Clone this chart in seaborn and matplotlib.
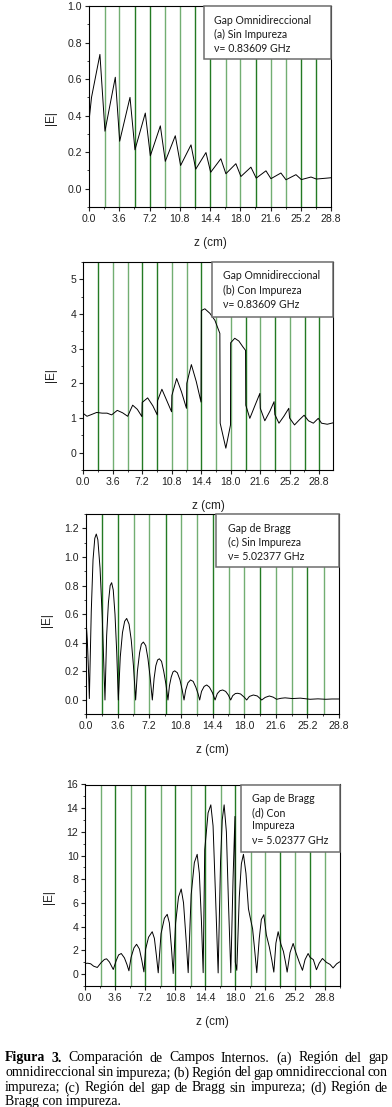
import matplotlib
matplotlib.use("Agg")
import numpy as np
import pandas as pd
import matplotlib.pyplot as plt
import seaborn as sns
from matplotlib.patches import Rectangle
from matplotlib.ticker import MultipleLocator, FormatStrFormatter

# ---------------- data ----------------
x_ticks = [0.0, 3.6, 7.2, 10.8, 14.4, 18.0, 21.6, 25.2, 28.8]
layer_bounds = [1.85, 3.6, 5.45, 7.2, 9.05, 10.8, 12.65, 14.4, 16.25, 18.0,
                19.85, 21.6, 23.45, 25.2, 27.05, 28.8]

za = [0, 0.3, 1.3, 1.9, 3.13, 3.65, 4.88, 5.47, 6.7, 7.3, 8.49, 9.08, 10.27, 10.9,
      12.14, 12.7, 13.92, 14.48, 15.69, 16.29, 17.48, 18.08, 19.27, 19.9, 21.06,
      21.65, 22.84, 23.44, 24.63, 25.27, 26.42, 27.06, 28.8]
Ea = [0.37, 0.5, 0.735, 0.315, 0.61, 0.26, 0.50, 0.213, 0.414, 0.18, 0.344, 0.15,
      0.29, 0.127, 0.24, 0.107, 0.198, 0.09, 0.164, 0.082, 0.137, 0.067, 0.118,
      0.058, 0.098, 0.055, 0.086, 0.049, 0.077, 0.05, 0.064, 0.053, 0.06]

zb = [0, 0.45, 1.0, 1.63, 2.3, 2.9, 3.46, 4.15, 4.8, 5.42, 6.03, 6.6, 7.16, 7.2,
      7.86, 8.5, 9.03, 9.07, 9.6, 10.2, 10.78, 10.82, 11.4, 12.0, 12.6, 12.64,
      13.2, 13.8, 14.38, 14.42, 14.85, 15.46, 16.07, 16.68, 16.72, 17.41, 17.98,
      18.0, 18.5, 19.0, 19.5, 19.82, 19.85, 20.34, 20.95, 21.57, 21.62, 22.17,
      22.8, 23.3, 23.4, 23.9, 24.5, 25.1, 25.2, 25.8, 26.4, 26.97, 27.5, 28.1,
      28.7, 29.1, 29.8, 30.5]
Eb = [1.13, 1.05, 1.1, 1.16, 1.14, 1.14, 1.09, 1.22, 1.15, 1.05, 1.37, 1.25, 1.04,
      1.45, 1.58, 1.35, 1.09, 1.5, 1.83, 1.5, 1.18, 1.65, 2.14, 1.75, 1.28, 2.0,
      2.54, 2.05, 1.46, 4.1, 4.15, 4.02, 3.82, 3.44, 0.85, 0.13, 0.8, 3.17, 3.3,
      3.22, 3.05, 2.95, 1.37, 0.99, 1.35, 1.71, 1.28, 0.92, 1.2, 1.47, 1.1, 0.85,
      1.05, 1.28, 1.0, 0.8, 0.95, 1.08, 0.92, 0.85, 0.99, 0.85, 0.82, 0.86]

zc = [0.0, 0.15, 0.3, 0.38, 0.6, 0.8, 1.0, 1.17, 1.35, 1.6, 1.85, 2.16,
      2.35, 2.55, 2.75, 2.92, 3.1, 3.3, 3.5, 3.68,
      3.9, 4.15, 4.4, 4.63, 4.9, 5.15, 5.4, 5.65,
      5.85, 6.1, 6.3, 6.53, 6.8, 7.05, 7.3, 7.55,
      7.75, 7.95, 8.15, 8.35, 8.6, 8.85, 9.1, 9.33,
      9.5, 9.7, 9.9, 10.1, 10.4, 10.7, 10.95, 11.16,
      11.35, 11.6, 11.9, 12.2, 12.5, 12.75, 12.94,
      13.15, 13.45, 13.74, 14.05, 14.4, 14.69,
      14.95, 15.25, 15.56, 15.9, 16.2, 16.47,
      16.7, 17.0, 17.27, 17.6, 18.0, 18.29,
      18.6, 19.05, 19.5, 20.0, 20.4, 20.87, 21.3, 21.7,
      22.2, 22.66, 23.5, 24.4, 25.5, 26.4, 27.3, 28.0, 28.8]
Ec = [0.56, 0.42, 0.18, 0.01, 0.62, 0.98, 1.13, 1.16, 1.12, 0.92, 0.58, 0.0,
      0.45, 0.68, 0.80, 0.82, 0.77, 0.60, 0.33, 0.0,
      0.30, 0.47, 0.55, 0.57, 0.53, 0.42, 0.24, 0.0,
      0.20, 0.33, 0.39, 0.405, 0.38, 0.29, 0.16, 0.0,
      0.15, 0.24, 0.28, 0.288, 0.27, 0.20, 0.11, 0.0,
      0.10, 0.16, 0.196, 0.204, 0.19, 0.14, 0.07, 0.0,
      0.07, 0.12, 0.14, 0.13, 0.09, 0.045, 0.0,
      0.06, 0.095, 0.105, 0.09, 0.05, 0.0,
      0.045, 0.065, 0.07, 0.06, 0.035, 0.0,
      0.03, 0.045, 0.047, 0.042, 0.02, 0.0,
      0.025, 0.035, 0.028, 0.0, 0.018, 0.028, 0.02, 0.005,
      0.012, 0.015, 0.01, 0.013, 0.005, 0.008, 0.005, 0.007, 0.007]

zd = [0, 0.3, 0.65, 1.0, 1.44, 1.9, 2.3, 2.56, 2.9, 3.36, 3.7, 4.0, 4.32, 4.7,
      5.0, 5.24, 5.5, 5.85, 6.16, 6.5, 6.8, 7.04, 7.25, 7.6, 8.04, 8.3, 8.55,
      8.76, 9.1, 9.5, 9.84, 10.1, 10.35, 10.56, 10.85, 11.2, 11.52, 11.8, 12.1,
      12.36, 12.72, 13.1, 13.44, 13.7, 13.95, 14.16, 14.35, 14.75, 15.08, 15.35,
      15.65, 15.96, 16.25, 16.45, 16.68, 16.95, 17.2, 17.48, 17.75, 17.98, 18.02,
      18.2, 18.5, 18.75, 19.0, 19.3, 19.6, 19.8, 20.1, 20.35, 20.6, 20.9, 21.15,
      21.45, 21.75, 22.1, 22.4, 22.65, 22.9, 23.17, 23.5, 23.8, 24.05, 24.25,
      24.6, 24.97, 25.3, 25.7, 26.09, 26.4, 26.77, 27.0, 27.4, 27.77, 28.1,
      28.49, 28.97, 29.4, 29.77, 30.2, 30.57]
Ed = [0.88, 0.9, 0.85, 0.65, 0.54, 0.95, 1.22, 1.27, 1.0, 0.37, 1.1, 1.6, 1.72,
      1.35, 0.8, 0.26, 1.4, 2.2, 2.5, 2.1, 1.1, 0.17, 2.1, 3.1, 3.56, 3.0, 1.5,
      0.09, 3.4, 4.7, 5.03, 4.3, 2.2, 0.03, 4.3, 6.5, 7.17, 6.0, 3.0, 0.1, 6.7,
      9.4, 10.1, 8.5, 4.5, 0.1, 10.5, 13.6, 14.28, 12.5, 6.5, 0.08, 9.5, 13.0,
      14.28, 12.0, 6.0, 0.1, 8.0, 13.3, 1.0, 0.3, 6.5, 9.3, 10.1, 8.5, 5.5, 4.8,
      3.8, 2.0, 0.1, 3.0, 4.6, 5.0, 3.3, 2.3, 1.2, 0.15, 2.6, 3.56, 2.5, 1.9,
      1.0, 0.15, 1.8, 2.57, 1.8, 1.0, 0.3, 1.2, 1.72, 1.4, 1.2, 0.35, 0.9, 1.3,
      0.97, 0.8, 0.5, 0.85, 1.02]

box_a = ["Gap Omnidireccional", "(a) Sin Impureza", "\u03bd= 0.83609 GHz"]
box_b = ["Gap Omnidireccional", "(b) Con Impureza", "\u03bd= 0.83609 GHz"]
box_c = ["Gap de Bragg", "(c) Sin Impureza", "\u03bd= 5.02377 GHz"]
box_d = ["Gap de Bragg", "(d) Con", "Impureza", "\u03bd= 5.02377 GHz"]

caption_lines = [
    [("Figura 3.", "bold"), ("Comparaci\u00f3n de Campos Internos. (a) Regi\u00f3n del gap", "normal")],
    [("omnidireccional sin impureza; (b) Regi\u00f3n del gap omnidireccional con", "normal")],
    [("impureza; (c) Regi\u00f3n del gap de Bragg sin impureza; (d) Regi\u00f3n de", "normal")],
    [("Bragg con impureza.", "normal")],
]

# ---------------- style ----------------
sns.set_style("ticks")
plt.rcParams['font.family'] = ['Liberation Sans', 'DejaVu Sans']
plt.rcParams['axes.linewidth'] = 0.8

W, H = 392, 1107
fig = plt.figure(figsize=(W / 100, H / 100), dpi=100)
LIGHT, DARK = '#72ae72', '#237a23'

panels = [
    dict(z=za, E=Ea, rect=(89, 6, 331, 207), xlim=(0, 28.8), ylim=(-0.1, 1.0),
         ymaj=0.2, ymin=0.1, fmt='%.1f', dark={2, 3, 6, 7, 10, 13, 14},
         box=(204, 6, 331, 59), text=box_a, tx=214, ty=[20.7, 34.3, 48.3],
         ylc=(-0.132, 0.443)),
    dict(z=zb, E=Eb, rect=(83.3, 262, 333, 470), xlim=(0, 30.5), ylim=(-0.5, 5.5),
         ymaj=1, ymin=0.5, fmt='%d', dark={0, 3, 4, 7, 10, 12, 14, 15},
         box=(212, 262, 333, 316.7), text=box_b, tx=222.7, ty=[275.7, 290.3, 304.3],
         ylc=(-0.106, 0.457)),
    dict(z=zc, E=Ec, rect=(86, 514, 339, 714.3), xlim=(0, 28.8), ylim=(-0.1, 1.3),
         ymaj=0.2, ymin=0.1, fmt='%.1f', dark={0, 1, 4, 7, 10, 13},
         box=(216, 514, 339, 566.7), text=box_c, tx=227.7, ty=[528.3, 542.3, 556],
         ylc=(-0.132, 0.47)),
    dict(z=zd, E=Ed, rect=(85.3, 784.5, 340, 985.7), xlim=(0, 30.6), ylim=(-1, 16),
         ymaj=2, ymin=1, fmt='%d', dark={1, 3, 5, 7, 9, 12, 14},
         box=(241, 784.5, 340, 851.7), text=box_d, tx=252.3,
         ty=[798.3, 812.3, 825.7, 840.7], ylc=(-0.119, 0.44)),
]

for p in panels:
    l, t, r, b = p['rect']
    ax = fig.add_axes([l / W, 1 - b / H, (r - l) / W, (b - t) / H])
    for i, xb in enumerate(layer_bounds):
        if xb < p['xlim'][1] - 0.01:
            ax.axvline(xb, color=DARK if i in p['dark'] else LIGHT, lw=1.0, zorder=1)
    df = pd.DataFrame({'z': p['z'], 'E': p['E']})
    sns.lineplot(data=df, x='z', y='E', ax=ax, color='black', lw=0.7,
                 sort=False, estimator=None, zorder=3)
    ax.set_xlim(*p['xlim'])
    ax.set_ylim(*p['ylim'])
    ax.set_xticks(x_ticks)
    ax.xaxis.set_major_formatter(FormatStrFormatter('%.1f'))
    ax.xaxis.set_minor_locator(MultipleLocator(1.8))
    ax.yaxis.set_major_locator(MultipleLocator(p['ymaj']))
    ax.yaxis.set_minor_locator(MultipleLocator(p['ymin']))
    ax.yaxis.set_major_formatter(FormatStrFormatter(p['fmt']))
    ax.set_ylim(*p['ylim'])
    ax.tick_params(which='major', direction='out', length=3, width=0.8,
                   labelsize=7.6, pad=2, colors='#222222')
    ax.tick_params(which='minor', direction='out', length=1.6, width=0.6,
                   colors='#222222')
    for s in ax.spines.values():
        s.set_color('black')
        s.set_linewidth(0.8)
    ax.set_xlabel('z (cm)', fontsize=8.5, color='#222222')
    ax.set_ylabel('|E|', fontsize=8.5, color='#222222')
    ax.xaxis.set_label_coords(0.5, -30.0 / (b - t))
    ax.yaxis.set_label_coords(*p['ylc'])

    bl, bt, br, bb = p['box']
    fig.add_artist(Rectangle((bl / W, 1 - bb / H), (br - bl) / W, (bb - bt) / H,
                             transform=fig.transFigure, facecolor='white',
                             edgecolor='#6e6e6e', lw=1.1, zorder=5))
    for s, yy in zip(p['text'], p['ty']):
        fig.text(p['tx'] / W, 1 - yy / H, s, fontsize=7.6, va='center', ha='left',
                 family=['Lato', 'DejaVu Sans'], color='#1a1a1a', zorder=6)

# ---------------- justified caption ----------------
renderer = fig.canvas.get_renderer()
cap_left, cap_right = 5.0, 388.0
cap_y = [1058, 1073, 1088, 1102]
cap_font = dict(fontsize=10, family='Liberation Serif', color='black')

for li, (segs, yy) in enumerate(zip(caption_lines, cap_y)):
    ybase = (H - yy - 3.5) / H
    last = li == len(caption_lines) - 1
    if last:
        fig.text(cap_left / W, ybase, segs[0][0], va='baseline', ha='left', **cap_font)
        continue
    words = []
    for txt, wt in segs:
        for w_ in txt.split(' '):
            words.append((w_, wt))
    objs = [fig.text(0, ybase, w_, fontweight=wt, va='baseline', ha='left', **cap_font)
            for w_, wt in words]
    widths = [o.get_window_extent(renderer).width for o in objs]
    gap = (cap_right - cap_left - sum(widths)) / (len(words) - 1)
    xcur = cap_left
    for o, wd in zip(objs, widths):
        o.set_x(xcur / W)
        xcur += wd + gap

fig.savefig('out.png', dpi=100)
